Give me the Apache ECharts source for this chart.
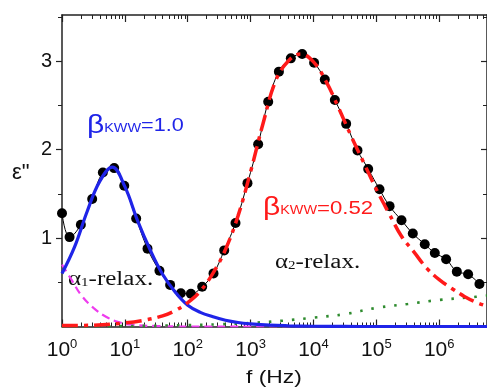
<!DOCTYPE html>
<html>
<head>
<meta charset="utf-8">
<script src="https://cdn.jsdelivr.net/npm/echarts@6/dist/echarts.min.js"></script>
<style>
html,body{margin:0;padding:0;background:#fff;}
#c{width:487px;height:388px;}
</style>
</head>
<body>
<div id="c"></div>
<script>
// x values are log10(f / Hz)
var xTickExponents = [0, 1, 2, 3, 4, 5, 6];
var yTickLabels = [1, 2, 3];

// measured dielectric loss (black dots)
var logF_data = [0.00,0.12,0.30,0.48,0.65,0.83,0.99,1.18,1.36,1.55,1.72,1.89,2.05,2.23,2.41,2.58,2.76,2.95,3.12,3.28,3.45,3.64,3.82,4.01,4.18,4.34,4.52,4.70,4.87,5.05,5.21,5.40,5.58,5.77,5.93,6.11,6.28,6.46,6.64];
var eps_data  = [1.28,1.01,1.15,1.44,1.74,1.79,1.59,1.22,0.88,0.63,0.47,0.375,0.37,0.45,0.60,0.86,1.17,1.62,2.06,2.54,2.88,3.03,3.08,2.98,2.79,2.56,2.29,1.99,1.78,1.55,1.36,1.20,1.05,0.93,0.83,0.76,0.62,0.59,0.48];

// alpha1 relaxation fit (blue, beta_KWW = 1.0)
var logF_a1 = [0,0.2,0.4,0.6,0.8,1.0,1.2,1.4,1.6,1.8,2.0,2.2,2.4,2.6,2.8,3.0,3.3,3.6,4.0,4.5,5.0,6.0,6.76];
var eps_a1  = [0.60,0.90,1.30,1.64,1.80,1.58,1.20,0.87,0.59,0.39,0.24,0.16,0.11,0.07,0.045,0.03,0.015,0.008,0.003,0.001,0,0,0];

// alpha2 relaxation fit (red, beta_KWW = 0.52)
var logF_a2 = [0,0.5,1.0,1.3,1.6,1.8,2.0,2.2,2.4,2.6,2.8,3.0,3.2,3.4,3.6,3.8,4.0,4.2,4.4,4.6,4.8,5.0,5.2,5.4,5.6,5.8,6.0,6.2,6.4,6.6,6.76];
var eps_a2  = [0.01,0.015,0.04,0.07,0.12,0.18,0.27,0.40,0.60,0.87,1.25,1.75,2.30,2.78,3.00,3.08,2.99,2.77,2.47,2.15,1.85,1.55,1.28,1.02,0.84,0.66,0.53,0.43,0.34,0.27,0.23];

// green dotted contribution
var logF_g = [0,1,2,2.5,3,3.5,4,4.5,5,5.5,6,6.5,6.76];
var eps_g  = [0,0.005,0.015,0.025,0.04,0.065,0.1,0.14,0.21,0.255,0.30,0.33,0.35];

// magenta dashed contribution
var logF_m = [0,0.15,0.3,0.5,0.7,0.9,1.1,1.5,2,3,6.76];
var eps_m  = [0.70,0.53,0.36,0.21,0.11,0.05,0.02,0.005,0,0,0];

function pairs(xs, ys){ return xs.map(function(x,i){ return [x, ys[i]]; }); }

var X_MIN = 0, X_MAX = 6.76, Y_MIN = 0, Y_MAX = 3.52;
var minorX = [];
for (var n = 0; n <= 6; n++) {
  for (var k = 2; k <= 9; k++) {
    var v = n + Math.log10(k);
    if (v <= X_MAX) minorX.push(v);
  }
}

var AX = '#222';
function xAx(pos, major, showLabel) {
  return {
    type: 'value', position: pos, min: X_MIN, max: X_MAX,
    axisLine: {show: major, onZero: false, lineStyle: {color: AX, width: 1.5}},
    axisTick: major ? {inside: true, length: 7, lineStyle: {color: AX, width: 1.2}, customValues: xTickExponents}
                    : {inside: true, length: 4, lineStyle: {color: AX, width: 1}, customValues: minorX},
    axisLabel: showLabel ? {
      show: true, margin: 11, customValues: xTickExponents,
      formatter: function(v){ return '{b|10}{s|' + Math.round(v) + '}'; },
      rich: {
        b: {fontSize: 21, fontFamily: 'Liberation Sans', color: '#111'},
        s: {fontSize: 13, fontFamily: 'Liberation Sans', color: '#111', padding: [0,0,12,0]}
      }
    } : {show: false},
    splitLine: {show: false}
  };
}
function yAx(pos, showLabel) {
  return {
    type: 'value', position: pos, min: Y_MIN, max: Y_MAX, interval: 1,
    axisLine: {show: true, onZero: false, lineStyle: {color: AX, width: 1.5}},
    axisTick: {inside: !showLabel, length: 6, lineStyle: {color: AX, width: 1.2}, customValues: yTickLabels},
    minorTick: {show: true, splitNumber: 2, length: 4, lineStyle: {color: AX, width: 1}},
    axisLabel: showLabel ? {
      show: true, margin: 10, customValues: yTickLabels,
      fontSize: 20, fontFamily: 'Liberation Sans', color: '#111'
    } : {show: false},
    splitLine: {show: false}
  };
}

function betaRich(col, nSize) {
  return {
    b: {fontSize: 25, fontFamily: 'Liberation Sans', fill: col, padding: [0,0,4,0]},
    k: {fontSize: 12, fontFamily: 'Liberation Sans', fill: col},
    n: {fontSize: nSize, fontFamily: 'Liberation Sans', fill: col, padding: [0,0,4,0]}
  };
}
function alphaRich() {
  return {
    a: {fontSize: 20, fontFamily: 'Liberation Serif', fill: '#111', padding: [0,0,5,0]},
    s: {fontSize: 12, fontFamily: 'Liberation Serif', fill: '#111'}
  };
}

var chart = echarts.init(document.getElementById('c'), null, {renderer: 'canvas'});
chart.setOption({
  animation: false,
  backgroundColor: '#fff',
  grid: {left: 62, right: -1, top: 15, bottom: 61.5, containLabel: false},
  xAxis: [xAx('bottom', true, true), xAx('bottom', false, false), xAx('top', true, false), xAx('top', false, false)],
  yAxis: [yAx('left', true), yAx('right', false)],
  series: [
    {type: 'line', name: 'data', data: pairs(logF_data, eps_data), smooth: 0.4,
     symbol: 'circle', symbolSize: 10, itemStyle: {color: '#000'},
     lineStyle: {color: '#000', width: 1}, z: 2},
    {type: 'line', name: 'magenta', data: pairs(logF_m, eps_m), smooth: 0.4, symbol: 'none',
     lineStyle: {color: '#ee3cee', width: 2.2, type: [8, 5]}, z: 3},
    {type: 'line', name: 'green', data: pairs(logF_g, eps_g), smooth: 0.4, symbol: 'none',
     lineStyle: {color: '#2e8b2e', width: 2.6, type: [2.5, 9]}, z: 3},
    {type: 'line', name: 'alpha1', data: pairs(logF_a1, eps_a1), smooth: 0.4, symbol: 'none',
     lineStyle: {color: '#1f24e8', width: 3.2}, z: 4},
    {type: 'line', name: 'alpha2', data: pairs(logF_a2, eps_a2), smooth: 0.4, symbol: 'none',
     lineStyle: {color: '#ff1a1a', width: 3.5, type: [16, 6, 4, 6]}, z: 5}
  ],
  graphic: [
    {type: 'text', left: 12, top: 162, style: {text: 'ε"', font: '22px "Liberation Sans"', fill: '#111'}},
    {type: 'text', left: 246, top: 368, scaleX: 1.2, style: {text: 'f (Hz)', font: '19px "Liberation Sans"', fill: '#111'}},
    {type: 'text', left: 87, top: 114, scaleX: 1.2, style: {
      text: '{b|β}{k|KWW}{n|=1.0}', fill: '#1f24e8', rich: betaRich('#1f24e8', 18)}},
    {type: 'text', left: 263, top: 196, scaleX: 1.2, style: {
      text: '{b|β}{k|KWW}{n|=0.52}', fill: '#ff1a1a', rich: betaRich('#ff1a1a', 18.5)}},
    {type: 'text', left: 68, top: 270, scaleX: 1.25, style: {
      text: '{a|α}{s|1}{a|-relax.}', fill: '#111', rich: alphaRich()}},
    {type: 'text', left: 275, top: 253, scaleX: 1.25, style: {
      text: '{a|α}{s|2}{a|-relax.}', fill: '#111', rich: alphaRich()}}
  ]
});
</script>
</body>
</html>
